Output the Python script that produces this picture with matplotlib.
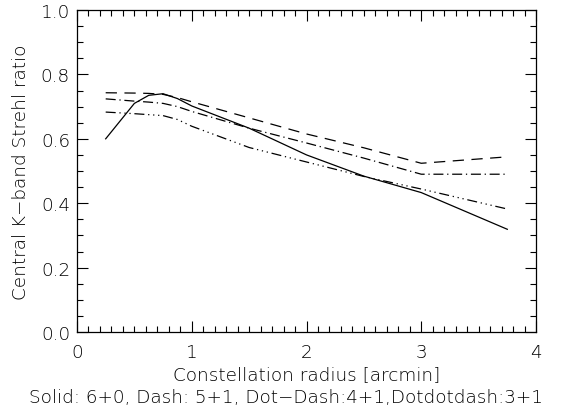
import matplotlib
matplotlib.use("Agg")
from matplotlib import pyplot as plt
from matplotlib.ticker import MultipleLocator

# constellation radius [arcmin]
radius = [0.25, 0.5, 0.625, 0.75, 0.875, 1.0, 1.5, 2.0, 2.5, 3.0, 3.75]

# central K-band Strehl ratio per configuration
solid_6_0 = [0.600, 0.710, 0.735, 0.740, 0.725, 0.702, 0.633, 0.550, 0.484, 0.433, 0.319]
dash_5_1 = [0.743, 0.742, 0.741, 0.738, 0.728, 0.715, 0.665, 0.615, 0.572, 0.524, 0.544]
dotdash_4_1 = [0.724, 0.717, 0.714, 0.710, 0.700, 0.685, 0.633, 0.587, 0.540, 0.490, 0.490]
dotdotdash_3_1 = [0.683, 0.678, 0.675, 0.672, 0.660, 0.639, 0.573, 0.528, 0.483, 0.444, 0.382]

plt.rcParams['font.family'] = ['DejaVu Sans']
plt.rcParams['font.weight'] = 'light'
plt.rcParams['axes.labelweight'] = 'light'
fs = 13.2
txt = 'black'
fig = plt.figure(figsize=(5.66, 4.10), dpi=100)
ax = fig.add_axes([77 / 566, 1 - 333 / 410, 459 / 566, 322 / 410])

lw = 0.9
ax.plot(radius, solid_6_0, color='black', lw=lw, linestyle='-')
ax.plot(radius, dash_5_1, color='black', lw=lw, linestyle=(0, (9, 6)))
ax.plot(radius, dotdash_4_1, color='black', lw=lw, linestyle=(0, (8, 3, 1, 3)))
ax.plot(radius, dotdotdash_3_1, color='black', lw=lw,
        linestyle=(0, (8, 3, 1, 3, 1, 3, 1, 3)))

ax.set_xlim(0, 4)
ax.set_ylim(0, 1)
ax.xaxis.set_major_locator(MultipleLocator(1))
ax.xaxis.set_minor_locator(MultipleLocator(0.1))
ax.yaxis.set_major_locator(MultipleLocator(0.2))
ax.yaxis.set_minor_locator(MultipleLocator(0.05))
ax.yaxis.set_major_formatter(matplotlib.ticker.FormatStrFormatter('%.1f'))
ax.tick_params(which='both', direction='in', top=True, right=True,
               labelsize=fs, width=0.8, labelcolor=txt)
ax.tick_params(which='major', length=8)
ax.tick_params(which='minor', length=4)
ax.tick_params(axis='x', pad=8)
ax.tick_params(axis='y', pad=5)
for s in ax.spines.values():
    s.set_linewidth(0.9)

ax.set_xlabel('Constellation radius [arcmin]', fontsize=fs, labelpad=3,
              color=txt, fontweight='light')
ax.set_ylabel('Central K\u2212band Strehl ratio', fontsize=fs, labelpad=8,
              color=txt, fontweight='light')
fig.text(286 / 566, 1 - 398 / 410,
         'Solid: 6+0, Dash: 5+1, Dot\u2212Dash:4+1,Dotdotdash:3+1',
         ha='center', va='center', fontsize=fs, color=txt, fontweight='light')

fig.savefig('out.png', dpi=100)
